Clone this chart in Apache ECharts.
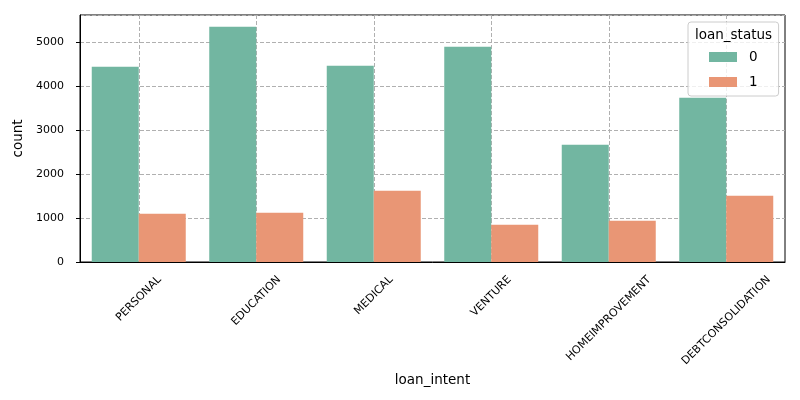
<!DOCTYPE html>
<html>
<head>
<meta charset="utf-8">
<script src="https://cdn.jsdelivr.net/npm/echarts@6/dist/echarts.min.js"></script>
<style>html,body{margin:0;padding:0;background:#fff}#c{width:800px;height:400px}</style>
</head>
<body>
<div id="c"></div>
<script>
const categories = ['PERSONAL', 'EDUCATION', 'MEDICAL', 'VENTURE', 'HOMEIMPROVEMENT', 'DEBTCONSOLIDATION'];
const status0 = [4440, 5348, 4460, 4893, 2666, 3734];
const status1 = [1098, 1120, 1620, 848, 939, 1507];
const seriesNames = ['0', '1'];
const yTicks = [0, 1000, 2000, 3000, 4000, 5000];

const FONT = 'DejaVu Sans';
const TICK_FS = 11;
const LABEL_FS = 13.5;

// per-label layout so rotated labels are centred under their ticks (matplotlib style)
const cv = document.createElement('canvas').getContext('2d');
cv.font = TICK_FS + 'px "' + FONT + '"';
const rich = {};
categories.forEach((c, i) => {
  const L = cv.measureText(c).width;
  const h = TICK_FS;
  rich['t' + i] = {
    fontFamily: FONT, fontSize: TICK_FS, color: '#000',
    padding: [Math.max(0, (L - h) / 4), (L + h) / 2, 0, 0]
  };
});

// half-step positions for vertical grid lines at category centres
const halfSteps = [];
for (let i = 0; i <= categories.length * 2; i++) halfSteps.push(String(i));

const chart = echarts.init(document.getElementById('c'), null, {renderer: 'canvas'});
chart.setOption({
  animation: false,
  textStyle: {fontFamily: FONT},
  grid: {left: 80, right: 15, top: 15, bottom: 138, show: true, borderColor: '#000', borderWidth: 1, backgroundColor: 'transparent'},
  xAxis: [{
    type: 'category',
    data: categories,
    name: 'loan_intent',
    nameLocation: 'middle',
    nameGap: 104,
    nameTextStyle: {fontFamily: FONT, fontSize: LABEL_FS, color: '#000'},
    axisLine: {lineStyle: {color: '#000', width: 1}},
    axisTick: {alignWithLabel: true, length: 4, lineStyle: {color: '#000'}},
    axisLabel: {
      interval: 0, rotate: 45, margin: 12, align: 'center', verticalAlign: 'top',
      formatter: (v, i) => '{t' + i + '|' + v + '}',
      rich: rich
    },
    splitLine: {show: false}
  }, {
    type: 'category',
    data: halfSteps,
    boundaryGap: false,
    position: 'bottom',
    axisLine: {show: false}, axisTick: {show: false}, axisLabel: {show: false},
    splitLine: {show: true, interval: (idx) => idx % 2 === 1, lineStyle: {color: '#b0b0b0', type: [4, 2], width: 1}}
  }],
  yAxis: {
    type: 'value',
    min: 0, max: 5615, interval: 1000,
    name: 'count',
    nameLocation: 'middle',
    nameGap: 47,
    nameTextStyle: {fontFamily: FONT, fontSize: LABEL_FS, color: '#000'},
    axisLine: {show: true, lineStyle: {color: '#000', width: 1}},
    axisTick: {show: true, length: 4, lineStyle: {color: '#000'}},
    axisLabel: {fontFamily: FONT, fontSize: TICK_FS, color: '#000', margin: 16, showMaxLabel: false,
      formatter: (v) => yTicks.includes(v) ? String(v) : ''},
    splitLine: {show: true, lineStyle: {color: '#b0b0b0', type: [4, 2], width: 1}}
  },
  legend: {
    orient: 'vertical', left: 688, top: 22,
    padding: [28, 21, 7, 21],
    itemWidth: 28, itemHeight: 10, itemGap: 11,
    icon: 'rect',
    backgroundColor: 'rgba(255,255,255,0.8)',
    borderColor: '#cccccc', borderWidth: 1, borderRadius: 3,
    textStyle: {fontFamily: FONT, fontSize: LABEL_FS, color: '#000', padding: [0, 0, 0, 7]},
    data: seriesNames
  },
  graphic: [{
    type: 'text', left: 695, top: 28, z: 100,
    style: {text: 'loan_status', fontFamily: FONT, fontSize: LABEL_FS, fill: '#000'}
  }],
  series: [{
    name: seriesNames[0], type: 'bar', data: status0, xAxisIndex: 0,
    barGap: '0%', barCategoryGap: '20%',
    itemStyle: {color: '#72b6a1'}
  }, {
    name: seriesNames[1], type: 'bar', data: status1, xAxisIndex: 0,
    barGap: '0%', barCategoryGap: '20%',
    itemStyle: {color: '#e99675'}
  }]
});
</script>
</body>
</html>
